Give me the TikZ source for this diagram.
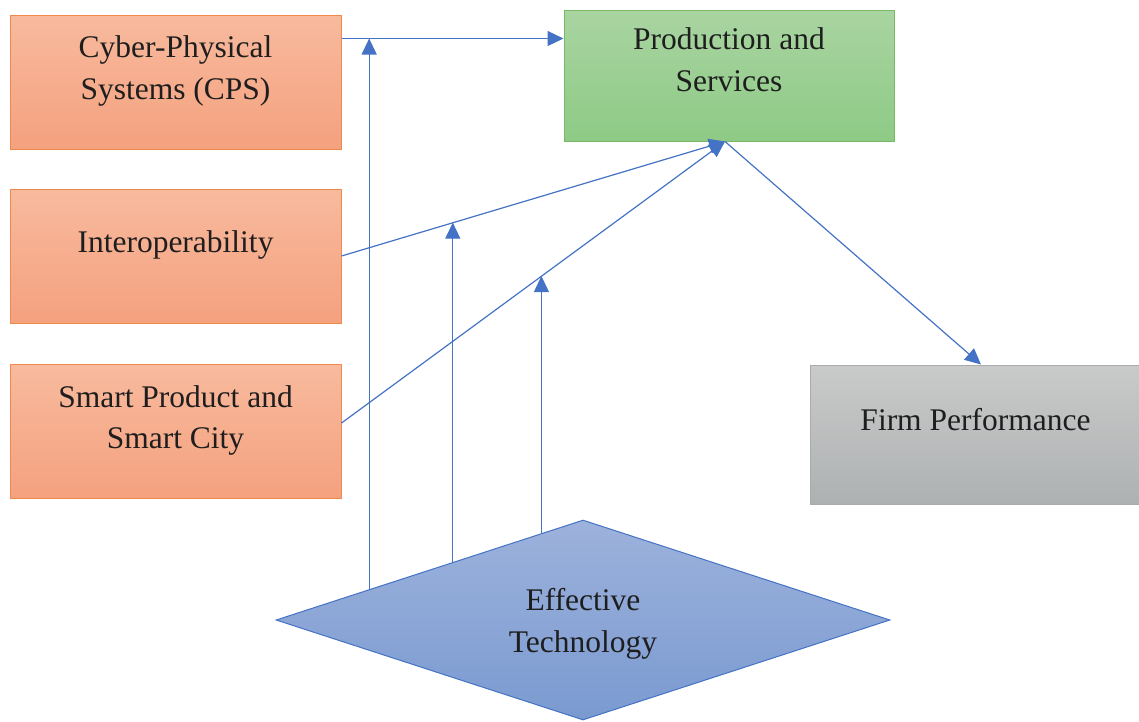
\documentclass[tikz,border=0pt]{standalone}
\usepackage{fontspec}
\setmainfont{Liberation Serif}
\usetikzlibrary{arrows.meta,calc,shapes.geometric}
\definecolor{FlowBlue}{RGB}{68,114,196}
\definecolor{OrangeLine}{RGB}{240,138,76}
\definecolor{OrangeTop}{RGB}{248,186,157}
\definecolor{OrangeBot}{RGB}{244,161,127}
\definecolor{GreenLine}{RGB}{120,185,100}
\definecolor{GreenTop}{RGB}{169,212,161}
\definecolor{GreenBot}{RGB}{142,202,134}
\definecolor{GrayLine}{RGB}{170,172,172}
\definecolor{GrayTop}{RGB}{201,202,202}
\definecolor{GrayBot}{RGB}{174,177,178}
\definecolor{BlueTop}{RGB}{157,178,220}
\definecolor{BlueBot}{RGB}{122,154,208}
\definecolor{TextGray}{RGB}{30,30,30}

\begin{document}
\begin{tikzpicture}[x=1pt, y=-1pt, font=\fontsize{31.5}{41.5}\selectfont]
  \tikzset{
    box/.style={draw, line width=1pt, minimum width=331pt, minimum height=134pt, inner sep=0pt},
    obox/.style={box, draw=OrangeLine, top color=OrangeTop, bottom color=OrangeBot},
    gbox/.style={box, draw=GreenLine, top color=GreenTop, bottom color=GreenBot, minimum width=330pt, minimum height=131pt},
    rbox/.style={box, draw=GrayLine, top color=GrayTop, bottom color=GrayBot, minimum height=139pt},
    dbox/.style={diamond, draw=FlowBlue, line width=1pt, top color=BlueTop, bottom color=BlueBot,
      minimum width=614pt, minimum height=200pt, inner sep=0pt},
    txt/.style={align=center, text=TextGray},
    arr/.style={-{Triangle[length=16pt,width=15pt]}, line width=1.2pt, draw=FlowBlue}
  }
  \useasboundingbox (0,0) rectangle (1139,721);

  % boxes
  \node[obox] (cps) at (175.5,82) {};
  \node[obox] (inter) at (175.5,256) {};
  \node[obox] (smart) at (175.5,431.5) {};
  \node[gbox] (prod) at (729,75.5) {};
  \node[rbox] (firm) at (975.5,434.5) {};
  \node[dbox] (tech) at (583,620) {};

  % texts
  \node[txt] (cpstxt) at ([yshift=11pt]cps.center) {Cyber-Physical\\Systems (CPS)};
  \node[txt] (intertxt) at ([yshift=11pt]inter.center) {Interoperability};
  \node[txt] (smarttxt) at ([yshift=11pt]smart.center) {Smart Product and\\Smart City};
  \node[txt] (prodtxt) at ([yshift=16pt]prod.center) {Production and\\Services};
  \node[txt] (firmtxt) at ([yshift=15pt]firm.center) {Firm Performance};
  \node[txt] (techtxt) at ([yshift=-4pt]tech.center) {Effective\\Technology};

  % connectors
  \coordinate (cpsout) at ([yshift=-24pt]cps.north east);
  \coordinate (interout) at (inter.east);
  \coordinate (smartout) at ([yshift=8.5pt]smart.east);
  \coordinate (ptip) at ([xshift=-4pt]prod.south);
  \draw[arr] (cpsout) -- (cpsout -| prod.west);
  \draw[arr] (interout) -- (ptip);
  \draw[arr] (smartout) -- (ptip);
  \draw[arr] (ptip) -- ([xshift=5.5pt]firm.north);

  % moderating lines
  \coordinate (b1) at ($(tech.west)!0.3046!(tech.north)$);
  \coordinate (b2) at ($(tech.west)!0.5765!(tech.north)$);
  \coordinate (b3) at ($(tech.west)!0.8648!(tech.north)$);
  \coordinate (m2) at ($(interout)!0.2917!(ptip)$);
  \coordinate (m3) at ($(smartout)!0.522!(ptip)$);
  \draw[arr] (b1) -- (b1 |- cpsout);
  \draw[arr] (b2) -- (b2 |- m2);
  \draw[arr] (b3) -- (b3 |- m3);
\end{tikzpicture}
\end{document}
